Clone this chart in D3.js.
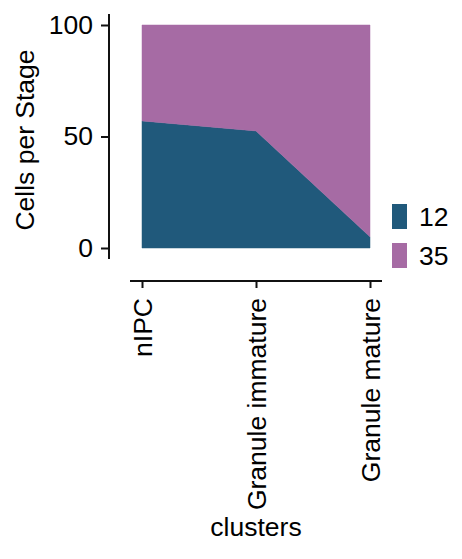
<!DOCTYPE html>
<html lang="en">
  <head>
    <meta charset="UTF-8" />
    <title>Cells per Stage</title>
    <style>
      body { margin: 0; background: #fff; }
      text { font-family: "Liberation Sans", Arial, sans-serif; fill: #000; }
    </style>
  </head>
  <body>
    <svg width="462" height="559"></svg>
    <script src="https://cdn.jsdelivr.net/npm/d3@7"></script>
    <script>
      const clusters = ['nIPC', 'Granule immature', 'Granule mature'];
      const stages = ['12', '35'];
      const stage12 = [57, 52.5, 5];
      const stage35 = [43, 47.5, 95];
      const yTicks = [0, 50, 100];
      const colors = ['#20597b', '#a66ba4'];

      const rows = clusters.map((c, i) => ({ cluster: c, '12': stage12[i], '35': stage35[i] }));

      const svg = d3.select('svg');
      const fs = 26.5;

      const x = d3.scalePoint().domain(clusters).range([142, 370]);
      const y = d3.scaleLinear().domain([0, 100]).range([248, 25]);
      const color = d3.scaleOrdinal().domain(stages).range(colors);

      const series = d3.stack().keys(stages)(rows);

      const area = d3
        .area()
        .x((d) => x(d.data.cluster))
        .y0((d) => y(d[0]))
        .y1((d) => y(d[1]));

      svg
        .append('g')
        .selectAll('path')
        .data(series)
        .enter()
        .append('path')
        .attr('d', area)
        .attr('fill', (d) => color(d.key))
        .attr('stroke', (d) => color(d.key))
        .attr('stroke-width', 0.5);

      // y axis
      const gy = svg.append('g').attr('transform', 'translate(109,0)');
      gy.call(d3.axisLeft(y).tickValues(yTicks).tickSize(8).tickPadding(8));
      gy.select('.domain').attr('d', 'M0,14V259');
      gy.selectAll('line, path').attr('stroke', '#111').attr('stroke-width', 2);
      gy.selectAll('text').attr('font-size', fs).attr('font-family', null);

      // x axis
      const gx = svg.append('g').attr('transform', 'translate(0,281)');
      gx.call(d3.axisBottom(x).tickSize(7).tickPadding(10));
      gx.select('.domain').attr('d', 'M130,0H382');
      gx.selectAll('line, path').attr('stroke', '#111').attr('stroke-width', 2);
      gx.selectAll('text')
        .attr('font-size', fs)
        .attr('font-family', null)
        .attr('text-anchor', 'end')
        .attr('transform', 'rotate(-90)')
        .attr('x', -17)
        .attr('y', 0)
        .attr('dy', '0.35em');

      svg
        .append('text')
        .attr('x', 256)
        .attr('y', 536)
        .attr('text-anchor', 'middle')
        .attr('font-size', fs)
        .text('clusters');

      svg
        .append('text')
        .attr('transform', 'translate(34,140) rotate(-90)')
        .attr('text-anchor', 'middle')
        .attr('font-size', fs)
        .text('Cells per Stage');

      // legend
      const lg = svg
        .append('g')
        .selectAll('g')
        .data(stages)
        .enter()
        .append('g')
        .attr('transform', (d, i) => `translate(392,${204 + i * 39})`);
      lg.append('rect').attr('width', 15).attr('height', 25).attr('fill', (d) => color(d));
      lg.append('text')
        .attr('x', 27)
        .attr('y', 12.5)
        .attr('dy', '0.35em')
        .attr('font-size', fs)
        .text((d) => d);
    </script>
  </body>
</html>
